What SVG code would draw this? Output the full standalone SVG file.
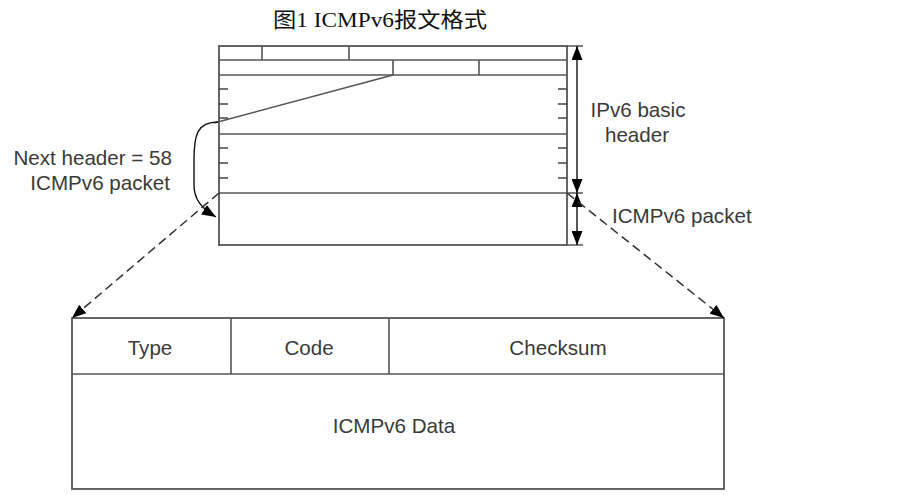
<svg xmlns="http://www.w3.org/2000/svg" width="903" height="495" viewBox="0 0 903 495">
<defs>
<marker id="ah" viewBox="0 0 14 11" refX="14" refY="5.5" markerWidth="14" markerHeight="11" markerUnits="userSpaceOnUse" orient="auto-start-reverse">
<path d="M0,0 L14,5.5 L0,11 Z" fill="#000"/>
</marker>
<style>
.ln{stroke:#555;stroke-width:1.6;fill:none}
.bx{stroke:#555;stroke-width:1.8;fill:#fff}
.tk{stroke:#444;stroke-width:1.5;fill:none}
.ar{stroke:#111;stroke-width:1.4;fill:none}
.ds{stroke:#333;stroke-width:1.5;fill:none;stroke-dasharray:9 5}
.t{font-family:"Liberation Sans",Arial,sans-serif;font-size:20.6px;fill:#3a3a3a}
.m{text-anchor:middle}
.e{text-anchor:end}
</style>
</defs>
<rect width="903" height="495" fill="#fff"/>
<text x="380" y="27" text-anchor="middle" font-family="'Liberation Serif','Noto Sans CJK SC',serif" font-size="21" fill="#111" textLength="214" lengthAdjust="spacingAndGlyphs">图1 ICMPv6报文格式</text>

<g id="ipv6-packet">
<rect class="bx" x="219" y="46" width="348" height="199"/>
<path class="ln" d="M219,60H567M219,75H567M219,134H567M219,193H567"/>
<path class="ln" d="M262,46V60M349,46V60M393,60V75M479,60V75"/>
<path class="tk" d="M219,89H228M219,104H228M219,118H228M219,148H228M219,163H228M219,178H228"/>
<path class="tk" d="M558,89H567M558,104H567M558,118H567M558,148H567M558,163H567M558,178H567"/>
<path class="ln" d="M567,46H583M567,193H583M567,245H583"/>
</g>

<g id="icmpv6-packet">
<rect class="bx" x="72" y="318" width="652" height="171"/>
<path class="ln" d="M72,374H724M231,318V374M389,318V374"/>
<text class="t m" x="150" y="355">Type</text>
<text class="t m" x="309" y="355">Code</text>
<text class="t m" x="558" y="355">Checksum</text>
<text class="t m" x="394" y="433">ICMPv6 Data</text>
</g>

<g id="labels">
<text class="t e" x="172" y="165">Next header = 58</text>
<text class="t e" x="170" y="190">ICMPv6 packet</text>
<text class="t m" x="638" y="117">IPv6 basic</text>
<text class="t m" x="637" y="142">header</text>
<text class="t" x="612" y="223">ICMPv6 packet</text>
</g>

<g id="connectors">
<path class="ln" d="M393,75L214,123"/>
<path class="ar" d="M218,122C197,122 194,135 194,160L194,185C194,199 201,208 216,217" marker-end="url(#ah)"/>
<path class="ar" d="M577,46V193" marker-start="url(#ah)" marker-end="url(#ah)"/>
<path class="ar" d="M577,193V245" marker-start="url(#ah)" marker-end="url(#ah)"/>
<path class="ds" d="M219,193L72,318" marker-end="url(#ah)"/>
<path class="ds" d="M567,193L724,318" marker-end="url(#ah)"/>
</g>
</svg>
